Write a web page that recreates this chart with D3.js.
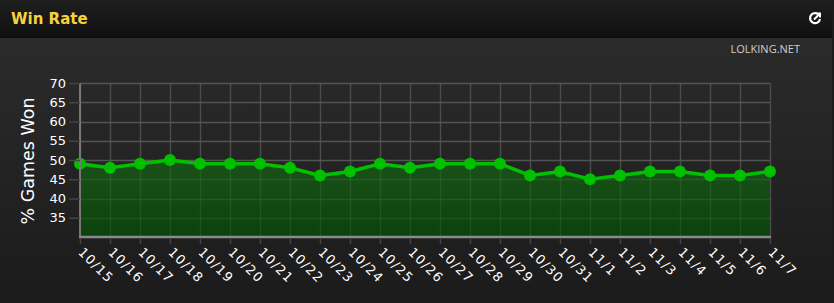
<!DOCTYPE html>
<html><head><meta charset="utf-8">
<script src="https://cdn.jsdelivr.net/npm/d3@7"></script>
<style>
html,body{margin:0;padding:0;background:#1b1b1b;}
svg{display:block;}
</style></head>
<body>
<svg id="chart" width="834" height="303"></svg>
<script>
const dates = ["10/15","10/16","10/17","10/18","10/19","10/20","10/21","10/22","10/23","10/24","10/25","10/26","10/27","10/28","10/29","10/30","10/31","11/1","11/2","11/3","11/4","11/5","11/6","11/7"];
const winRate = [49,48,49,50,49,49,49,48,46,47,49,48,49,49,49,46,47,45,46,47,47,46,46,47];
const yTicks = [35,40,45,50,55,60,65,70];

const svg = d3.select("#chart");
const W = 834, H = 303;
const defs = svg.append("defs");
const bodyGrad = defs.append("linearGradient").attr("id","bodyG").attr("x1",0).attr("y1",0).attr("x2",0).attr("y2",1);
bodyGrad.append("stop").attr("offset","0%").attr("stop-color","#2b2b2b");
bodyGrad.append("stop").attr("offset","100%").attr("stop-color","#1b1b1b");
const headGrad = defs.append("linearGradient").attr("id","headG").attr("x1",0).attr("y1",0).attr("x2",0).attr("y2",1);
headGrad.append("stop").attr("offset","0%").attr("stop-color","#1e1e1e");
headGrad.append("stop").attr("offset","100%").attr("stop-color","#111111");
const areaGrad = defs.append("linearGradient").attr("id","areaG").attr("x1",0).attr("y1",0).attr("x2",0).attr("y2",1);
areaGrad.append("stop").attr("offset","0%").attr("stop-color","#1a521a");
areaGrad.append("stop").attr("offset","100%").attr("stop-color","#0b420b");

svg.append("rect").attr("x",0).attr("y",0).attr("width",W).attr("height",H).attr("fill","#1b1b1b");
svg.append("rect").attr("x",0).attr("y",37).attr("width",W-2).attr("height",H-39).attr("fill","url(#bodyG)");
svg.append("rect").attr("x",0).attr("y",0).attr("width",W-2).attr("height",37).attr("fill","url(#headG)");
svg.append("line").attr("x1",0).attr("x2",W-2).attr("y1",37.5).attr("y2",37.5).attr("stroke","#0c0c0c");

svg.append("text").attr("x",11).attr("y",24).text("Win Rate")
  .attr("font-family","'DejaVu Sans', Verdana, sans-serif").attr("font-weight","bold").attr("font-size",15)
  .attr("fill","#f7d23c");

// share icon
const icon = svg.append("g").attr("transform","translate(815,18)");
icon.append("path").attr("d","M2,-4.5 A5,5 0 1 0 5,1").attr("fill","none").attr("stroke","#fff").attr("stroke-width",2.2);
icon.append("path").attr("d","M-1,1.5 L4,-3.5 M1,-4.5 L5,-4.5 L5,-0.5").attr("fill","none").attr("stroke","#fff").attr("stroke-width",2);

svg.append("text").attr("x",800).attr("y",53).attr("text-anchor","end").text("LOLKING.NET")
  .attr("font-family","'Open Sans','DejaVu Sans',sans-serif").attr("font-size",11).attr("fill","#cfcfcf");

const x = d3.scalePoint().domain(dates).range([80,770]);
const y = d3.scaleLinear().domain([30,70]).range([237,83]);

const g = svg.append("g");
// horizontal grid
g.selectAll(".hg").data(yTicks).join("line")
  .attr("x1",80).attr("x2",770).attr("y1",d=>Math.round(y(d))+0.5).attr("y2",d=>Math.round(y(d))+0.5)
  .attr("stroke","#454545").attr("stroke-width",1.5);
// vertical grid
g.selectAll(".vg").data(dates).join("line")
  .attr("x1",d=>x(d)+0.5).attr("x2",d=>x(d)+0.5).attr("y1",83).attr("y2",237)
  .attr("stroke","#3e3e3e").attr("stroke-width",1.5);

// area
const area = d3.area().x((d,i)=>x(dates[i])).y0(y(30)).y1(d=>y(d));
g.append("path").datum(winRate).attr("d",area).attr("fill","url(#areaG)").attr("opacity",1);
// grid over area (faint)
g.selectAll(".hg2").data(yTicks).join("line")
  .attr("x1",80).attr("x2",770).attr("y1",d=>Math.round(y(d))+0.5).attr("y2",d=>Math.round(y(d))+0.5)
  .attr("stroke","#ffffff").attr("stroke-opacity",0.08).attr("stroke-width",1.5);
g.selectAll(".vg2").data(dates).join("line")
  .attr("x1",d=>x(d)+0.5).attr("x2",d=>x(d)+0.5).attr("y1",83).attr("y2",237)
  .attr("stroke","#ffffff").attr("stroke-opacity",0.07).attr("stroke-width",1.5);

// y axis
const yAxis = d3.axisLeft(y).tickValues(yTicks).tickSize(11).tickPadding(3);
const ya = svg.append("g").attr("transform","translate(80,0)").call(yAxis);
ya.select(".domain").attr("stroke","#777").attr("stroke-width",2).attr("d","M0,83V237");
ya.selectAll(".tick line").attr("stroke","#444").attr("stroke-width",1.5);
ya.selectAll("text").attr("fill","#ffffff").attr("font-family","'DejaVu Sans',sans-serif").attr("font-size",13);

// x axis
const xAxis = d3.axisBottom(x).tickSize(5).tickPadding(8);
const xa = svg.append("g").attr("transform","translate(0,237)").call(xAxis);
xa.select(".domain").attr("stroke","#8a8a8a").attr("stroke-width",2.5).attr("d","M79,0H771");
xa.selectAll(".tick line").attr("stroke","#444").attr("stroke-width",1.5).attr("y1",2).attr("y2",7);
xa.selectAll("text").attr("fill","#ffffff").attr("font-family","'DejaVu Sans',sans-serif").attr("font-size",13)
  .attr("letter-spacing","1.2px")
  .attr("text-anchor","start").attr("dy",0).attr("y",0)
  .attr("transform","translate(-3,16) rotate(45)");

// y title
svg.append("text").attr("transform","translate(34,161) rotate(-90)").attr("text-anchor","middle")
  .text("% Games Won").attr("fill","#ffffff").attr("font-family","'DejaVu Sans',sans-serif").attr("font-size",17.5);

// line and markers
const line = d3.line().x((d,i)=>x(dates[i])).y(d=>y(d));
g.append("path").datum(winRate).attr("d",line).attr("fill","none").attr("stroke","#00c000").attr("stroke-width",3.5);
g.selectAll(".pt").data(winRate).join("circle")
  .attr("cx",(d,i)=>x(dates[i])).attr("cy",d=>y(d)).attr("r",6).attr("fill","#00c000");
</script>
</body></html>
